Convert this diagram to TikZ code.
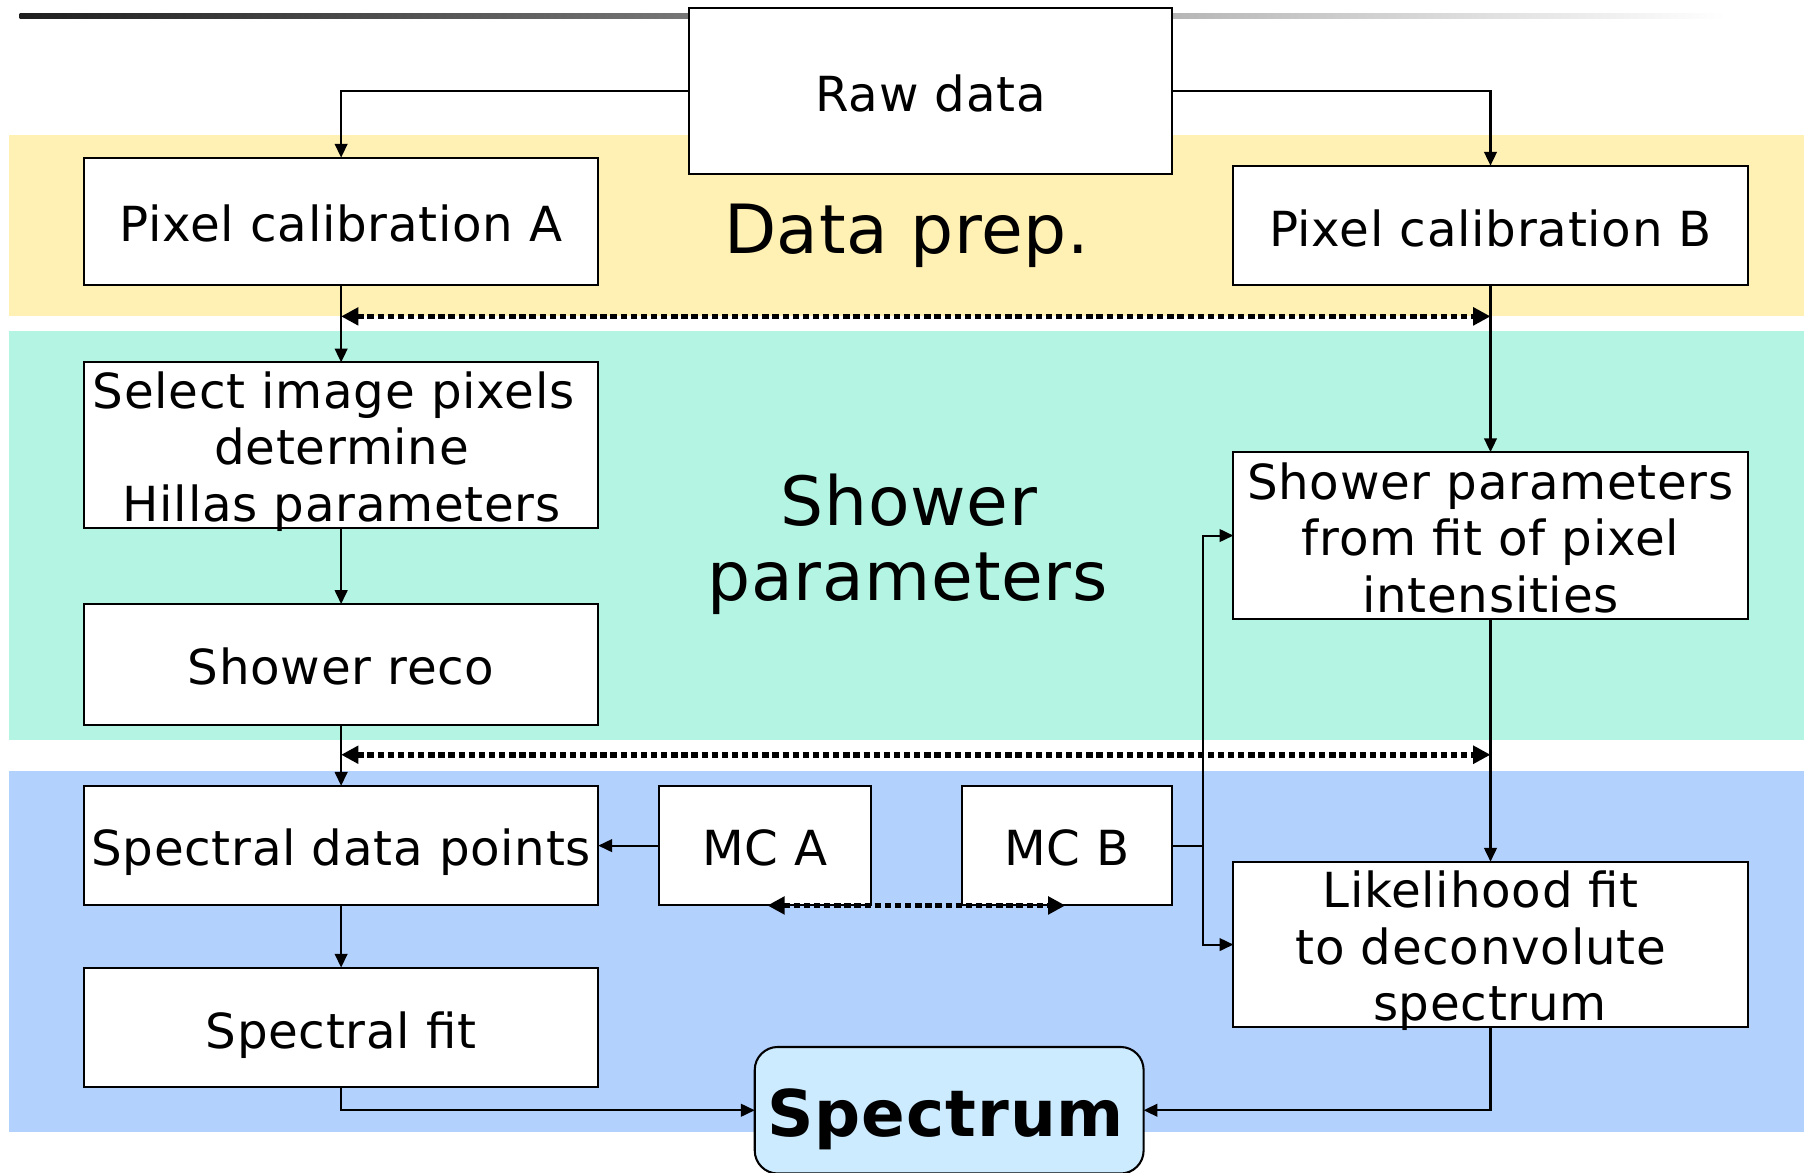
\documentclass[tikz,border=0pt]{standalone}
\usepackage{fontspec}
\setmainfont{DejaVu Sans}
\newfontfamily\boxfont[LetterSpace=1.5]{DejaVu Sans}
\newfontfamily\bigfont[LetterSpace=1]{DejaVu Sans}
\newfontfamily\specfont[LetterSpace=1.5]{DejaVu Sans}
\usetikzlibrary{arrows.meta}
\definecolor{bandY}{HTML}{FFF0B3}
\definecolor{bandT}{HTML}{B3F4E3}
\definecolor{bandB}{HTML}{B3D1FD}
\definecolor{specfill}{HTML}{CCEBFF}
\begin{document}
\begin{tikzpicture}[x=1pt,y=-1pt,
  box/.style={draw=black, line width=1.8pt, fill=white, inner sep=0pt, outer sep=0pt},
  txt/.style={anchor=base, inner sep=0pt, font=\boxfont\fontsize{42}{49}\selectfont},
  bigtxt/.style={anchor=base, inner sep=0pt, font=\bigfont\fontsize{59}{65}\selectfont},
  conn/.style={line width=1.8pt, -{Triangle[length=12pt,width=11pt]}},
  plainline/.style={line width=1.8pt},
  dots/.style={line width=5pt, dash pattern=on 5.5pt off 3.3pt, {Triangle[length=15pt,width=15pt]}-{Triangle[length=15pt,width=15pt]}},
]
\useasboundingbox (0,0) rectangle (1568,1019);
\clip (0,0) rectangle (1568,1019);
% bands
\fill[bandY] (8,117) rectangle (1568,275);
\fill[bandT] (8,288) rectangle (1568,643);
\fill[bandB] (8,670) rectangle (1568,984);
% top rule
\shade[left color=black!88, right color=white] (17,11.5) rectangle (1500,16.5);
% boxes
\node[box, minimum width=420pt, minimum height=144pt] (raw) at (809,79) {};
\node[box, minimum width=447pt, minimum height=111pt] (pa) at (296.5,192.5) {};
\node[box, minimum width=447pt, minimum height=104pt] (pb) at (1295.5,196) {};
\node[box, minimum width=447pt, minimum height=144pt] (sel) at (296.5,387) {};
\node[box, minimum width=447pt, minimum height=105pt] (reco) at (296.5,577.5) {};
\node[box, minimum width=447pt, minimum height=145pt] (sfp) at (1295.5,465.5) {};
\node[box, minimum width=447pt, minimum height=104pt] (sdp) at (296.5,735) {};
\node[box, minimum width=184pt, minimum height=104pt] (mca) at (665,735) {};
\node[box, minimum width=183pt, minimum height=104pt] (mcb) at (927.5,735) {};
\node[box, minimum width=447pt, minimum height=144pt] (lf) at (1295.5,821) {};
\node[box, minimum width=447pt, minimum height=104pt] (sfit) at (296.5,893) {};
\node[box, fill=specfill, rounded corners=20pt, minimum width=338pt, minimum height=110pt] (spec) at (825,965) {};
% texts
\node[txt] (trawt) at (809,97) {Raw data};
\node[txt] (tpa) at (296.5,210) {Pixel calibration A};
\node[txt] (tpb) at (1295.5,214) {Pixel calibration B};
\node[bigtxt] (tprep) at (788,220) {Data prep.};
\node[txt] (tsel1) at (290,355) {Select image pixels};
\node[txt] (tsel2) at (297,404) {determine};
\node[txt] (tsel3) at (297,453) {Hillas parameters};
\node[bigtxt] (tsh1) at (790,457) {Shower};
\node[bigtxt] (tsh2) at (789,522) {parameters};
\node[txt] (treco) at (296.5,595) {Shower reco};
\node[txt] (tsfp1) at (1295.5,434) {Shower parameters};
\node[txt] (tsfp2) at (1295.5,483) {from fit of pixel};
\node[txt] (tsfp3) at (1295.5,532) {intensities};
\node[txt] (tsdp) at (296.5,752) {Spectral data points};
\node[txt] (tmca) at (665,752) {MC A};
\node[txt] (tmcb) at (927.5,752) {MC B};
\node[txt] (tlf1) at (1287,789) {Likelihood fit};
\node[txt] (tlf2) at (1287,838) {to deconvolute};
\node[txt] (tlf3) at (1295,887) {spectrum};
\node[txt] (tsfit) at (296.5,911) {Spectral fit};
\node[anchor=base, inner sep=0pt, font=\specfont\fontsize{56}{60}\selectfont\bfseries] (tspec) at (822,988) {Spectrum};
% connectors
\draw[conn] (raw.west) -| (pa.north);
\draw[conn] (raw.east) -| (pb.north);
\draw[conn] (pa.south) -- (sel.north);
\draw[conn] (pb.south) -- (sfp.north);
\draw[conn] (sel.south) -- (reco.north);
\draw[conn] (reco.south) -- (sdp.north);
\draw[conn] (sfp.south) -- (lf.north);
\draw[conn] (sdp.south) -- (sfit.north);
\draw[conn] (mca.west) -- (sdp.east);
\coordinate (jmc) at (1046,735);
\draw[plainline] (mcb.east) -- (jmc);
\draw[conn] (jmc) |- (sfp.west);
\draw[conn] (jmc) |- (lf.west);
\draw[conn] (sfit.south) |- (spec.west);
\draw[conn] (lf.south) |- (spec.east);
% dotted links
\coordinate (d1l) at (296.5,275);
\coordinate (d1r) at (1295.5,275);
\coordinate (d2l) at (296.5,656);
\coordinate (d2r) at (1295.5,656);
\coordinate (d3l) at (667,787);
\coordinate (d3r) at (926,787);
\draw[dots] (d1l) -- (d1r);
\draw[dots] (d2l) -- (d2r);
\draw[dots] (d3l) -- (d3r);
\end{tikzpicture}
\end{document}
